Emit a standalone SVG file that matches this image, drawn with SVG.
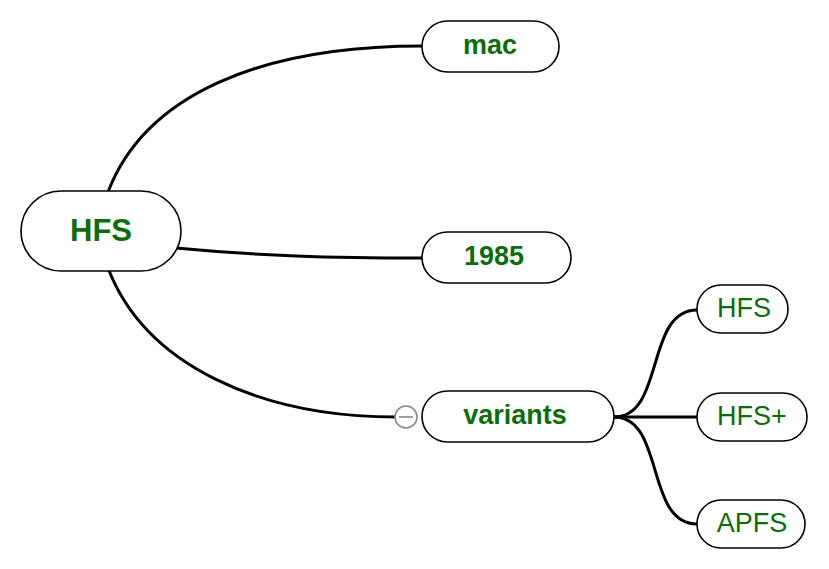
<svg xmlns="http://www.w3.org/2000/svg" width="829" height="569" viewBox="0 0 829 569">
<style>
.node{fill:#fff;stroke:#000;stroke-width:1.6}
.lbl{font-family:"Liberation Sans",Arial,sans-serif;fill:#0b6e0b;text-anchor:middle;dominant-baseline:central}
.b{font-weight:bold;font-size:27px}
.r{font-size:27px}
.edge{fill:none;stroke:#000;stroke-width:3}
</style>
<rect width="829" height="569" fill="#fff"/>
<g id="connectors">
<path class="edge" d="M108,192 C145,95 260,46 422,46"/>
<path class="edge" d="M176,248 C260,256 330,258 422,258"/>
<path class="edge" d="M108,268 C145,365 260,417 396,417"/>
<path class="edge" d="M614,417 C665,417 645,310 697,310"/>
<path class="edge" d="M614,417 L697,417"/>
<path class="edge" d="M614,417 C665,417 645,524 697,524"/>
</g>
<g id="root">
<rect class="node" x="21" y="191" width="160" height="80" rx="40"/>
<text class="lbl" x="101" y="230" style="font-weight:bold;font-size:31px">HFS</text>
</g>
<g id="mac">
<rect class="node" x="422" y="21" width="137" height="51" rx="25.5"/>
<text class="lbl b" x="490" y="45">mac</text>
</g>
<g id="n1985">
<rect class="node" x="422" y="232" width="149" height="51" rx="25.5"/>
<text class="lbl b" x="494" y="256">1985</text>
</g>
<g id="variants">
<rect class="node" x="422" y="391" width="192" height="51" rx="25.5"/>
<text class="lbl b" x="515" y="415">variants</text>
<circle cx="406" cy="417" r="11" fill="#fff" stroke="#888" stroke-width="1.6"/>
<line x1="399" y1="417" x2="413" y2="417" stroke="#888" stroke-width="1.6"/>
</g>
<g id="hfs">
<rect class="node" x="697" y="285" width="91" height="48" rx="24"/>
<text class="lbl r" x="744" y="308">HFS</text>
</g>
<g id="hfsplus">
<rect class="node" x="697" y="393" width="110" height="48" rx="24"/>
<text class="lbl r" x="752" y="416">HFS+</text>
</g>
<g id="apfs">
<rect class="node" x="697" y="500" width="108" height="48" rx="24"/>
<text class="lbl r" x="752" y="523">APFS</text>
</g>
</svg>
